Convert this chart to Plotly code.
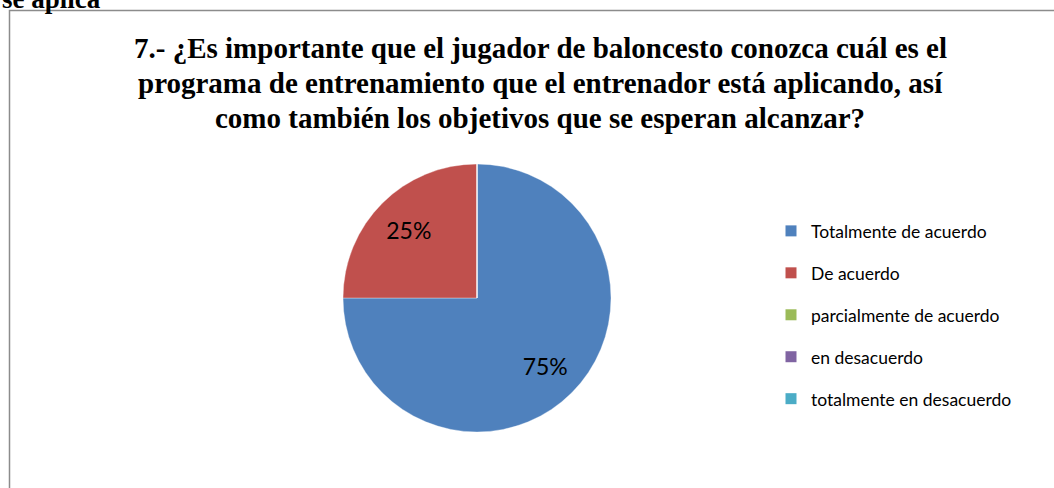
import plotly.graph_objects as go

W, H = 1054, 488

categories = ["Totalmente de acuerdo", "De acuerdo", "parcialmente de acuerdo",
              "en desacuerdo", "totalmente en desacuerdo"]
values = [75, 25, 0, 0, 0]
colors = ["#4F81BD", "#C0504D", "#9BBB59", "#8064A2", "#4BACC6"]
title_lines = [
    "7.- ¿Es importante que el jugador de baloncesto conozca cuál es el",
    "programa de entrenamiento que el entrenador está aplicando, así",
    "como también los objetivos que se esperan alcanzar?",
]
top_text = "se aplica"

def px(x):
    return x / W

def py(y):
    return 1 - y / H

cx, cy, r = 477, 298, 134
dom = dict(x=[px(cx - r), px(cx + r)], y=[py(cy + r), py(cy - r)])

fig = go.Figure()
# full pie
fig.add_trace(go.Pie(
    labels=categories, values=values,
    marker=dict(colors=colors, line=dict(width=1, color="rgba(255,255,255,0.35)")),
    sort=False, direction="clockwise", rotation=0,
    textinfo="none", domain=dom, showlegend=False, hoverinfo="label+percent",
))
# transparent ring on top that only carries the percentage labels at the right radius
fig.add_trace(go.Pie(
    labels=categories, values=values, hole=0.44,
    marker=dict(colors=["rgba(0,0,0,0)"] * len(values), line=dict(width=0)),
    sort=False, direction="clockwise", rotation=0,
    textposition="inside",
    texttemplate=["%{percent:.0%}" if v > 0 else "" for v in values],
    insidetextfont=dict(family="Lato, Carlito, sans-serif", size=23, color="black"),
    insidetextorientation="horizontal",
    domain=dom, showlegend=False, hoverinfo="skip",
))

for cat, col in zip(categories, colors):
    fig.add_trace(go.Scatter(
        x=[None], y=[None], mode="markers", name=cat, legendgroup=cat,
        marker=dict(symbol="square", size=11, color=col),
    ))

for i, line in enumerate(title_lines):
    fig.add_annotation(
        text="<b>" + line + "</b>", x=px(540), y=py(48 + i * 35),
        xref="paper", yref="paper", showarrow=False, xanchor="center", yanchor="middle",
        font=dict(family="Liberation Serif, Times New Roman, serif", size=29, color="black"),
    )

fig.add_annotation(
    text="<b>" + top_text + "</b>", x=0, y=py(-1), xref="paper", yref="paper",
    showarrow=False, xanchor="left", yanchor="middle",
    font=dict(family="Liberation Serif, Times New Roman, serif", size=27, color="black"),
)

fig.add_shape(type="rect", xref="paper", yref="paper",
              x0=px(9.5), x1=px(1070), y0=py(10.5), y1=py(520),
              line=dict(color="#8c8c8c", width=1.5))

fig.update_layout(
    width=W, height=H, margin=dict(l=0, r=0, t=0, b=0),
    paper_bgcolor="white", plot_bgcolor="white",
    xaxis=dict(visible=False), yaxis=dict(visible=False),
    legend=dict(x=px(771), y=py(213), xanchor="left", yanchor="top",
                font=dict(family="Lato, Carlito, sans-serif", size=17.5, color="black"),
                tracegroupgap=16.2, itemwidth=30, bgcolor="rgba(0,0,0,0)"),
)

fig.write_html("out.html")
